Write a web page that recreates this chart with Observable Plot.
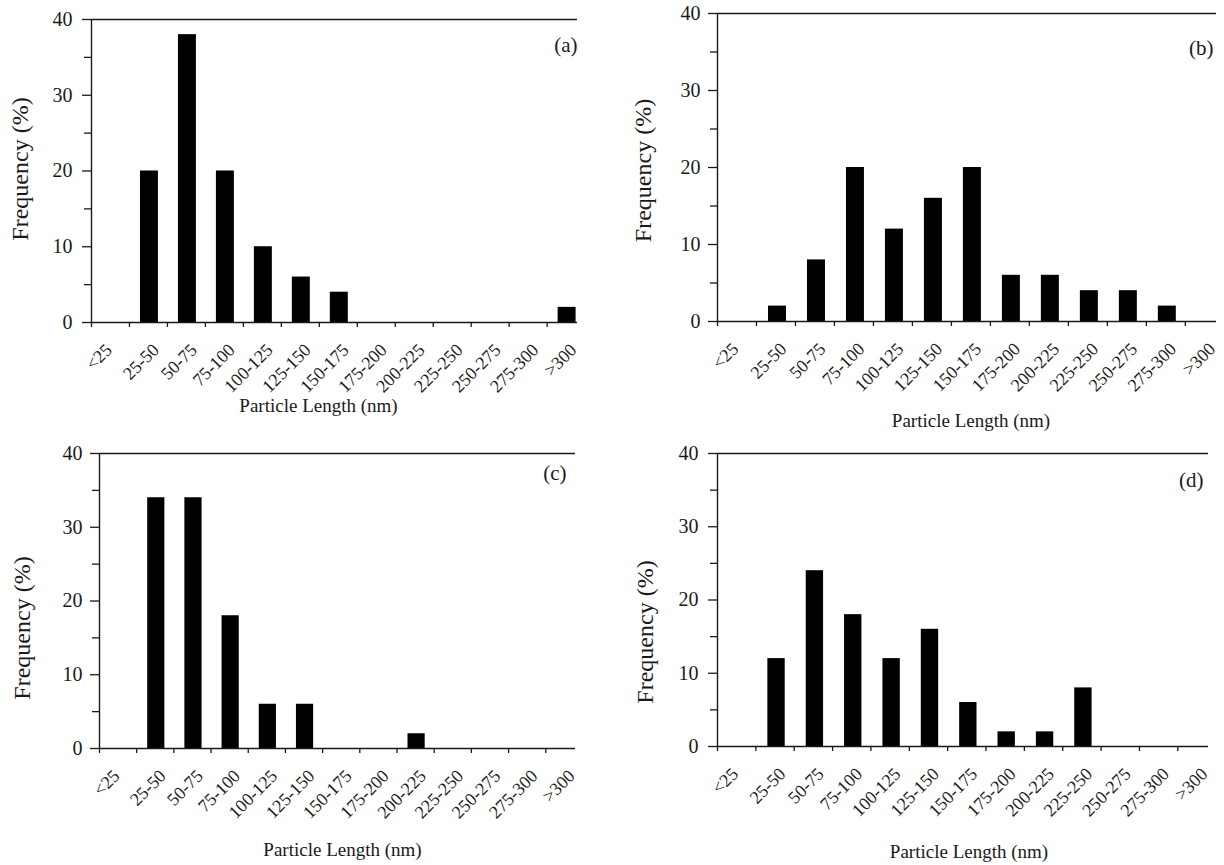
<!DOCTYPE html>
<html>
<head>
<meta charset="utf-8">
<script src="https://cdn.jsdelivr.net/npm/d3@7"></script>
<script src="https://cdn.jsdelivr.net/npm/@observablehq/plot@0.6"></script>
<style>
  html, body { margin: 0; padding: 0; background: #fff; }
  #wrap { position: relative; width: 1224px; height: 865px; overflow: hidden; background: #fff; }
  .panel { position: absolute; }
  .panel svg { font-family: 'Liberation Serif', 'Times New Roman', serif; }
</style>
</head>
<body>
<div id="wrap"></div>
<script>
// ---- data ----
const categories = ["<25", "25-50", "50-75", "75-100", "100-125", "125-150", "150-175",
  "175-200", "200-225", "225-250", "250-275", "275-300", ">300"];
const valuesA = [0, 20, 38, 20, 10, 6, 4, 0, 0, 0, 0, 0, 2];
const valuesB = [0, 2, 8, 20, 12, 16, 20, 6, 6, 4, 4, 2, 0];
const valuesC = [0, 34, 34, 18, 6, 6, 0, 0, 2, 0, 0, 0, 0];
const valuesD = [0, 12, 24, 18, 12, 16, 6, 2, 2, 8, 0, 0, 0];
const yTicks = [0, 10, 20, 30, 40];
const yMinorTicks = [5, 15, 25, 35];
const panelLabels = ["(a)", "(b)", "(c)", "(d)"];
const xLabel = "Particle Length (nm)";
const yLabel = "Frequency (%)";

const FONT = "'Liberation Serif', 'Times New Roman', serif";
const INK = "#1a1a1a";

function panel(values, tag, L) {
  const rows = categories.map((c, i) => ({cat: c, i, v: values[i]})).filter(d => d.v > 0);
  const yMax = d3.max(yTicks);
  const labelTicks = categories.map((c, i) => i + 0.5);
  const labelAxis = (ticks, dx) => Plot.axisX({ticks, tickSize: 0, tickPadding: 24.5, tickRotate: -45,
    textAnchor: "end", tickFormat: d => categories[Math.floor(d)], fontSize: 18, dx, label: null});
  return Plot.plot({
    width: L.w, height: L.h,
    marginLeft: L.ml, marginRight: L.mr, marginTop: L.mt, marginBottom: L.mb,
    style: {fontFamily: FONT, fontSize: "18px", color: INK, background: "transparent", overflow: "visible"},
    x: {domain: [0, 12.8]},
    y: {domain: [0, yMax]},
    marks: [
      Plot.rectY(rows, {x1: "i", x2: d => d.i + 1, y: "v", fill: "#000", insetLeft: L.inL, insetRight: L.inR}),
      Plot.ruleY([0, yMax], {stroke: INK, strokeWidth: 1.4}),
      Plot.ruleX([0], {y1: 0, y2: yMax, stroke: INK, strokeWidth: 1.4}),
      Plot.axisY({ticks: yTicks, tickSize: 9, tickPadding: L.tp, fontSize: 20, label: null, stroke: INK, strokeWidth: 1.3}),
      Plot.axisY({ticks: yMinorTicks, tickSize: 7, tickFormat: () => "", label: null, stroke: INK, strokeWidth: 1.3}),
      Plot.axisX({ticks: d3.range(categories.length), tickSize: 5, tickFormat: () => "", label: null, stroke: INK, strokeWidth: 1.3}),
      labelAxis(labelTicks.slice(0, 1), -1.5),
      labelAxis(labelTicks.slice(1), 7.5),
      Plot.text([yLabel], {frameAnchor: "left", textAnchor: "middle", lineAnchor: "middle", rotate: -90,
        dx: L.ylx, dy: L.yly, fontSize: 24, fill: INK}),
      Plot.text([xLabel], {frameAnchor: "bottom", textAnchor: "middle", lineAnchor: "middle",
        dx: L.xlx, dy: L.xly, fontSize: 19, fill: INK}),
      Plot.text([tag], {frameAnchor: "top-right", textAnchor: "end", lineAnchor: "middle",
        dx: L.tx, dy: L.ty, fontSize: 21, fill: INK})
    ]
  });
}

const layouts = [
  {left: 0, top: 0, w: 612, h: 430, ml: 91, mr: 35, mt: 19, mb: 108, inL: 11, inR: 9, tp: 10,
   ylx: -71, yly: -2, xlx: -16, xly: 83, tx: 0, ty: 26},
  {left: 612, top: 0, w: 612, h: 430, ml: 105, mr: 8, mt: 13, mb: 109, inL: 12, inR: 9, tp: 8,
   ylx: -74, yly: 3, xlx: 4, xly: 99, tx: -3, ty: 35},
  {left: 0, top: 430, w: 612, h: 435, ml: 99, mr: 37, mt: 23, mb: 117, inL: 11, inR: 9, tp: 8,
   ylx: -77, yly: 27, xlx: 5, xly: 101, tx: -9, ty: 20},
  {left: 612, top: 430, w: 612, h: 435, ml: 105, mr: 16, mt: 23, mb: 119, inL: 12, inR: 9, tp: 10,
   ylx: -72, yly: 32, xlx: 6, xly: 105, tx: -5, ty: 27}
];
const allValues = [valuesA, valuesB, valuesC, valuesD];

const wrap = document.getElementById("wrap");
layouts.forEach((L, k) => {
  const div = document.createElement("div");
  div.className = "panel";
  div.style.left = L.left + "px";
  div.style.top = L.top + "px";
  div.appendChild(panel(allValues[k], panelLabels[k], L));
  wrap.appendChild(div);
});
</script>
</body>
</html>
